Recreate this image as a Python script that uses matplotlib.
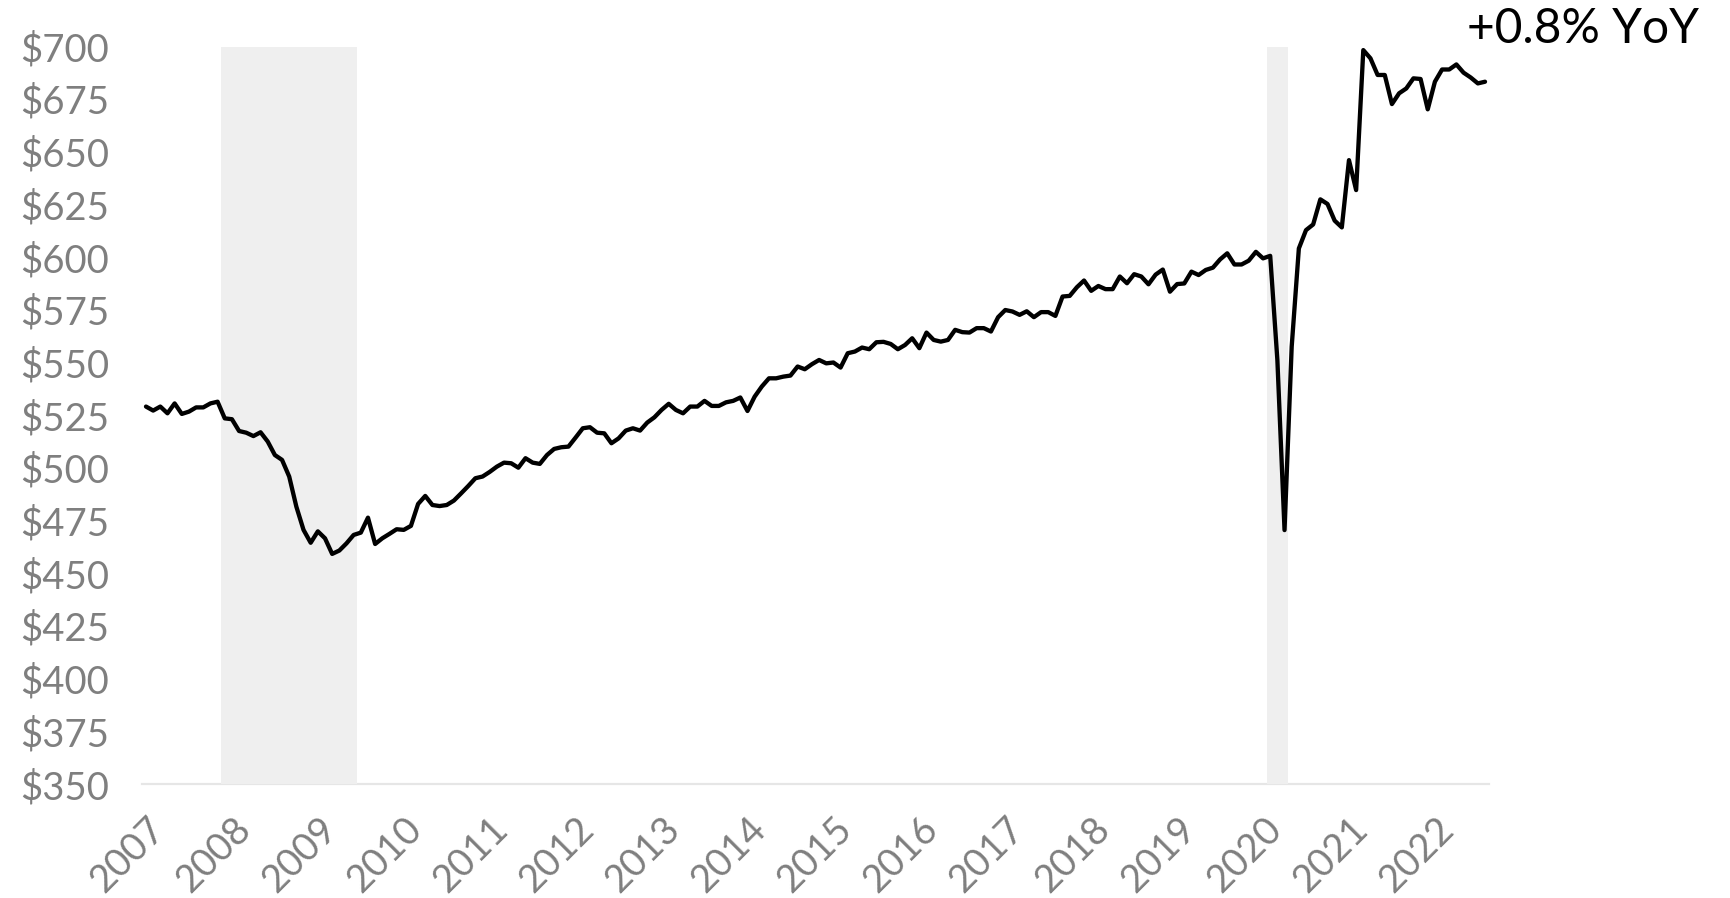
import numpy as np
import matplotlib
matplotlib.use("Agg")
import matplotlib.pyplot as plt

# Monthly values, Jan 2007 - Aug 2022 (dollars)
values = [
    529.2, 527.3, 529.2, 526.0, 530.7, 525.7, 526.8, 528.8, 528.8, 530.7, 531.5, 523.6,  # 2007
    523.2, 517.6, 516.8, 515.2, 517.0, 512.6, 506.2, 503.9, 496.0, 481.7, 470.7, 464.6,  # 2008
    470.0, 466.7, 459.3, 460.9, 464.3, 468.3, 469.4, 476.5, 464.0, 466.7, 468.8, 471.0,  # 2009
    470.7, 472.6, 483.0, 486.8, 482.5, 482.0, 482.5, 484.6, 488.0, 491.5, 495.2, 496.0,  # 2010
    498.2, 500.7, 502.6, 502.3, 500.2, 504.7, 502.6, 502.0, 506.2, 509.1, 509.9, 510.2,  # 2011
    514.5, 518.9, 519.4, 516.8, 516.5, 511.8, 514.1, 517.8, 518.9, 517.8, 521.6, 524.1,  # 2012
    527.6, 530.5, 527.6, 526.0, 529.2, 529.2, 531.9, 529.5, 529.5, 531.2, 531.9, 533.5,  # 2013
    527.1, 533.9, 538.7, 542.6, 542.6, 543.4, 543.9, 548.2, 546.9, 549.3, 551.3, 549.7,  # 2014
    550.1, 547.7, 554.5, 555.3, 557.2, 556.4, 559.7, 559.9, 558.9, 556.4, 558.4, 561.6,  # 2015
    556.9, 564.3, 560.8, 560.0, 560.8, 565.6, 564.5, 564.3, 566.4, 566.4, 564.8, 571.6,  # 2016
    575.0, 574.3, 572.7, 574.4, 571.6, 574.0, 574.0, 572.2, 581.4, 581.7, 585.8, 589.0,  # 2017
    584.1, 586.4, 584.9, 584.9, 590.9, 587.7, 592.0, 590.9, 587.2, 591.8, 594.2, 583.7,  # 2018
    587.3, 587.6, 593.2, 591.6, 594.0, 595.1, 599.0, 601.9, 596.6, 596.6, 598.4, 602.6,  # 2019
    599.5, 600.7, 551.3, 470.6, 557.6, 604.2, 612.9, 615.6, 627.5, 625.3, 617.4, 614.2,  # 2020
    646.1, 631.9, 698.3, 694.4, 686.5, 686.5, 672.7, 677.8, 680.1, 684.9, 684.6, 670.2,  # 2021
    683.3, 689.1, 689.1, 691.5, 687.6, 685.3, 682.5, 683.3,                              # 2022
]
start_year = 2007
year_labels = [str(y) for y in range(2007, 2023)]
y_ticks = list(range(350, 701, 25))
recessions = [("2007-12", "2009-06"), ("2020-02", "2020-04")]
yoy_label = "+0.8% YoY"


def month_index(stamp):
    year, month = map(int, stamp.split("-"))
    return (year - start_year) * 12 + month - 1


plt.rcParams["font.family"] = ["Lato", "DejaVu Sans"]

fig = plt.figure(figsize=(17.31, 8.98), dpi=100)
ax = fig.add_axes([0.08227, 0.1266, 0.7777, 0.8216])

x = np.arange(len(values))
ax.plot(x, values, color="black", lw=3.1, solid_joinstyle="round",
        solid_capstyle="round", zorder=3)

for start, end in recessions:
    ax.axvspan(month_index(start) - 0.5, month_index(end) + 0.5,
               color="#efefef", lw=0, zorder=1)

ax.axhline(350, color="#e6e6e6", lw=1.6, zorder=0.5, clip_on=False)

ax.set_xlim(-0.5, len(values) - 0.5)
ax.set_ylim(350, 700)
for spine in ax.spines.values():
    spine.set_visible(False)

ax.set_yticks(y_ticks)
ax.set_yticklabels([f"${v}" for v in y_ticks])
ax.set_xticks([int(lbl) * 12 - start_year * 12 for lbl in year_labels])
ax.set_xticklabels(year_labels)
ax.tick_params(length=0, labelsize=27.5, labelcolor="#7f7f7f")
ax.tick_params(axis="y", pad=24)
ax.tick_params(axis="x", pad=19)
plt.setp(ax.get_xticklabels(), rotation=45, ha="right", va="top",
         rotation_mode="anchor")

fig.text(0.8475, 0.9518, yoy_label, fontsize=34.5, color="black",
         ha="left", va="baseline")

fig.savefig("out.png", dpi=100, facecolor="white")
